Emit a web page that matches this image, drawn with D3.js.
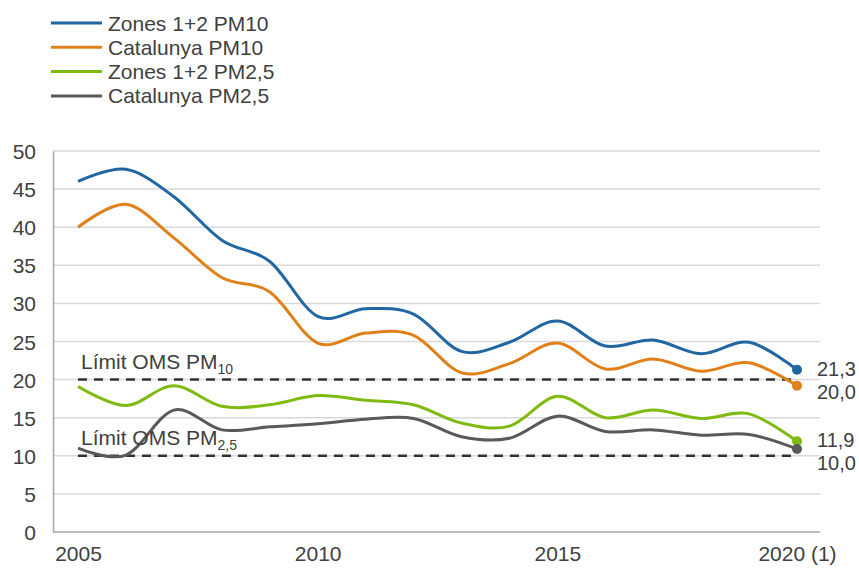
<html>
  <head>
    <script src="https://d3js.org/d3.v7.min.js"></script>
    <style>
      body { margin: 0; background: #fff; }
      text { font-family: "Liberation Sans", Arial, sans-serif; fill: #404040; }
    </style>
  </head>
  <body>
    <script>
      // data
      var years = [2005, 2006, 2007, 2008, 2009, 2010, 2011, 2012, 2013, 2014, 2015, 2016, 2017, 2018, 2019, 2020];
      var zonesPM10 = [46.0, 47.6, 44.0, 38.3, 35.5, 28.3, 29.3, 28.6, 23.7, 24.9, 27.7, 24.4, 25.2, 23.4, 24.9, 21.3];
      var catPM10 = [40.0, 43.0, 38.6, 33.4, 31.5, 24.8, 26.1, 25.8, 20.9, 22.1, 24.8, 21.4, 22.7, 21.1, 22.2, 19.2];
      var zonesPM25 = [19.1, 16.6, 19.2, 16.5, 16.7, 17.9, 17.3, 16.7, 14.3, 13.9, 17.8, 15.0, 16.0, 14.9, 15.5, 11.9];
      var catPM25 = [11.0, 10.1, 16.0, 13.4, 13.8, 14.2, 14.8, 14.9, 12.5, 12.3, 15.2, 13.2, 13.4, 12.7, 12.8, 10.9];

      var seriesNames = ["Zones 1+2 PM10", "Catalunya PM10", "Zones 1+2 PM2,5", "Catalunya PM2,5"];
      var seriesColors = ["#2166a3", "#e08019", "#7fba10", "#595959"];
      var seriesValues = [zonesPM10, catPM10, zonesPM25, catPM25];

      var yTicks = [0, 5, 10, 15, 20, 25, 30, 35, 40, 45, 50];
      var xTicks = [2005, 2010, 2015, 2020];
      var xTickLabels = ["2005", "2010", "2015", "2020 (1)"];

      // WHO limits
      var limits = [20, 10];
      var limitLabels = [["Límit OMS PM", "10"], ["Límit OMS PM", "2,5"]];
      var endLabels = ["21,3", "20,0", "11,9", "10,0"];
      // where the end labels sit (nudged apart so they don't collide)
      var endLabelValues = [21.4, 18.4, 12.1, 9.05];

      var width = 859, height = 568;
      var svg = d3.select("body").append("svg")
                  .attr("width", width).attr("height", height);

      var x = d3.scaleLinear().domain([2005, 2020]).range([78, 797]);
      var y = d3.scaleLinear().domain([0, 50]).range([532, 151]);
      var left = 53, right = 820;

      //gridlines
      svg.selectAll(".grid").data(yTicks.slice(1)).enter().append("line")
         .attr("x1", left).attr("x2", right)
         .attr("y1", function(d) { return y(d); }).attr("y2", function(d) { return y(d); })
         .attr("stroke", "#d9d9d9").attr("stroke-width", 1.5);

      // y axis
      var yAxis = svg.append("g").attr("transform", "translate(" + left + ",0)")
                     .call(d3.axisLeft(y).tickValues(yTicks).tickSize(0).tickPadding(17));
      yAxis.select(".domain").attr("stroke", "#a6a6a6").attr("stroke-width", 1.5);
      yAxis.selectAll("text").attr("font-size", "21px").attr("dy", "0.36em")
           .style("font-family", "'Liberation Sans', Arial, sans-serif").attr("fill", "#404040");

      // x axis
      var xAxis = svg.append("g").attr("transform", "translate(0,532)")
                     .call(d3.axisBottom(x).tickValues(xTicks).tickSize(0).tickPadding(14)
                       .tickFormat(function(d, i) { return xTickLabels[i]; }));
      xAxis.select(".domain").attr("d", "M" + left + ",0H" + right)
           .attr("stroke", "#a6a6a6").attr("stroke-width", 1.5);
      xAxis.selectAll("text").attr("font-size", "21px")
           .style("font-family", "'Liberation Sans', Arial, sans-serif").attr("fill", "#404040");

      // dashed limit lines
      svg.selectAll(".limit").data(limits).enter().append("line")
         .attr("x1", x(2005)).attr("x2", x(2020))
         .attr("y1", function(d) { return y(d); }).attr("y2", function(d) { return y(d); })
         .attr("stroke", "#333").attr("stroke-width", 2.5).attr("stroke-dasharray", "9,7");

      // series lines
      var line = d3.line()
                   .x(function(d, i) { return x(years[i]); })
                   .y(function(d) { return y(d); })
                   .curve(d3.curveCatmullRom.alpha(0));

      svg.selectAll(".series").data(seriesValues).enter().append("path")
         .attr("d", function(d) { return line(d); })
         .attr("fill", "none")
         .attr("stroke", function(d, i) { return seriesColors[i]; })
         .attr("stroke-width", 3);

      svg.selectAll(".dot").data(seriesValues).enter().append("circle")
         .attr("cx", x(2020))
         .attr("cy", function(d) { return y(d[d.length - 1]); })
         .attr("r", 5)
         .attr("fill", function(d, i) { return seriesColors[i]; });

      // limit labels
      var lim = svg.selectAll(".limlab").data(limits).enter().append("text")
                   .attr("x", 81)
                   .attr("y", function(d) { return y(d) - 11; })
                   .attr("font-size", "21px");
      lim.append("tspan").text(function(d, i) { return limitLabels[i][0]; });
      lim.append("tspan").attr("font-size", "14px").attr("dy", "5")
         .text(function(d, i) { return limitLabels[i][1]; });

      // end labels
      svg.selectAll(".endlab").data(endLabels).enter().append("text")
         .attr("x", 817)
         .attr("y", function(d, i) { return y(endLabelValues[i]); })
         .attr("dy", "0.36em")
         .attr("font-size", "20px")
         .text(function(d) { return d; });

      // legend
      var legend = svg.selectAll(".legend").data(seriesNames).enter().append("g")
                      .attr("transform", function(d, i) { return "translate(51," + (23 + i * 24.3) + ")"; });
      legend.append("line").attr("x1", 0).attr("x2", 51)
            .attr("stroke", function(d, i) { return seriesColors[i]; }).attr("stroke-width", 3);
      legend.append("text").attr("x", 57).attr("dy", "0.36em").attr("font-size", "21px")
            .text(function(d) { return d; });
    </script>
  </body>
</html>
